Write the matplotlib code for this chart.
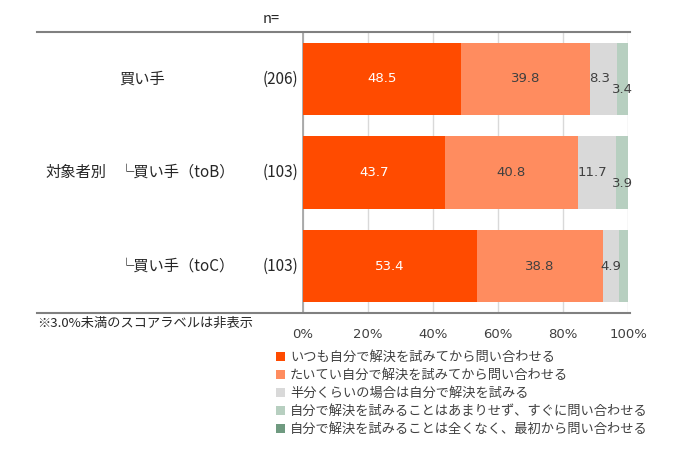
import numpy as np
import matplotlib
matplotlib.use("Agg")
import matplotlib.pyplot as plt
from matplotlib.lines import Line2D

plt.rcParams['font.family'] = ['Noto Sans CJK JP', 'DejaVu Sans']

# data
rows = ['買い手', '└買い手（toB）', '└買い手（toC）']
n_labels = ['(206)', '(103)', '(103)']
group_label = '対象者別'
series = ['いつも自分で解決を試みてから問い合わせる',
          'たいてい自分で解決を試みてから問い合わせる',
          '半分くらいの場合は自分で解決を試みる',
          '自分で解決を試みることはあまりせず、すぐに問い合わせる',
          '自分で解決を試みることは全くなく、最初から問い合わせる']
values = np.array([
    [48.5, 39.8, 8.3, 3.4, 0.0],
    [43.7, 40.8, 11.7, 3.9, 0.0],
    [53.4, 38.8, 4.9, 2.9, 0.0],
])
colors = ['#FF4B00', '#FF8C5F', '#D9D9D9', '#B7CFC0', '#6F9A80']
label_colors = ['white', '#404040', '#404040', '#404040', '#404040']

fig = plt.figure(figsize=(7, 4.69), dpi=100)
ax = fig.add_axes([303/700, 1 - 313/469, 325/700, 281/469])

y = np.arange(len(rows))
left = np.zeros(len(rows))
handles = []
for j in range(values.shape[1]):
    b = ax.barh(y, values[:, j], left=left, height=0.77, color=colors[j],
                label=series[j], zorder=3)
    handles.append(b)
    for i in range(len(rows)):
        v = values[i, j]
        if v >= 3.0:
            xc = left[i] + v / 2
            dx, dy = 0, 0
            if v < 6:
                if j > 0 and values[i, j - 1] >= 3.0 and values[i, j - 1] < 15:
                    dy = -8
            if v < 15 and j + 1 < values.shape[1] and 3.0 <= values[i, j + 1] < 6:
                dx = -3
            ax.annotate(f'{v:.1f}', (xc, i), xytext=(dx, dy),
                        textcoords='offset points', ha='center', va='center',
                        fontsize=9.5, color=label_colors[j], zorder=5,
                        family=['DejaVu Sans'])
    left += values[:, j]

ax.set_xlim(0, 100)
ax.set_ylim(len(rows) - 0.5, -0.5)
ax.set_xticks(np.arange(0, 101, 20))
ax.set_xticklabels([f'{t}%' for t in range(0, 101, 20)], fontsize=9.5,
                   color='#404040', family=['DejaVu Sans'])
ax.tick_params(axis='x', length=0, pad=11)
ax.set_yticks([])
ax.grid(axis='x', color='#D9D9D9', linewidth=1, zorder=0)
for s in ['top', 'right', 'bottom']:
    ax.spines[s].set_visible(False)
ax.spines['left'].set_color('#A0A0A0')
ax.spines['left'].set_linewidth(1.2)

# table lines
for yy in [32, 313]:
    fig.add_artist(Line2D([37/700, 630/700], [1 - yy/469, 1 - yy/469],
                          color='#808080', linewidth=1.5))

# row labels
for i, r in enumerate(rows):
    yc = ax.transData.transform((0, i))[1] / fig.bbox.height
    fig.text(119/700, yc, r, ha='left', va='center', fontsize=11, color='#262626')
    fig.text(298/700, yc, n_labels[i], ha='right', va='center', fontsize=11,
             color='#262626')
fig.text(45/700, 1 - 172/469, group_label, ha='left', va='center', fontsize=11,
         color='#262626')
fig.text(263/700, 1 - 19/469, 'n=', ha='left', va='center', fontsize=10.5,
         color='#262626')
fig.text(37/700, 1 - 323/469, '※3.0%未満のスコアラベルは非表示', ha='left',
         va='center', fontsize=9.5, color='#262626')

fig.legend(handles=handles, labels=series, loc='upper left',
           bbox_to_anchor=(276/700, 1 - 351/469), frameon=False, fontsize=9.5,
           handlelength=0.7, handleheight=0.7, handletextpad=0.35,
           labelspacing=0.38, borderpad=0, borderaxespad=0, labelcolor='#404040')

fig.savefig('out.png', dpi=100)
